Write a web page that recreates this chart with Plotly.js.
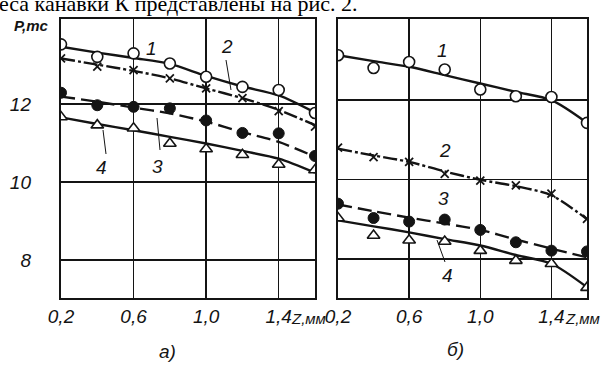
<!DOCTYPE html>
<html>
<head>
<meta charset="utf-8">
<script src="https://cdn.plot.ly/plotly-3.0.1.min.js"></script>
<style>html,body{margin:0;padding:0;background:#fff}#chart{width:605px;height:365px}</style>
</head>
<body>
<div id="chart"></div>
<script>
// Z, mm (measurement points)
const zPoints = [0.2, 0.4, 0.6, 0.8, 1.0, 1.2, 1.4, 1.6];
const zTicks = [0.2, 0.6, 1.0, 1.4];
const zTickText = ['0,2', '0,6', '1,0', '1,4'];
const pTicks = [8, 10, 12];
const pTickText = ['8', '10', '12'];

// panel a) measured points, P, tc
const a1 = [13.53, 13.21, 13.30, 13.04, 12.70, 12.44, 12.36, 11.77];
const a2 = [13.17, 12.96, 12.87, 12.66, 12.40, 12.15, 11.82, 11.42];
const a3 = [12.29, 11.97, 11.93, 11.89, 11.58, 11.26, 11.25, 10.67];
const a4 = [11.67, 11.46, 11.38, 10.99, 10.85, 10.70, 10.45, 10.31];
// panel a) fitted curves
const a1fit = [13.47, 13.32, 13.18, 13.03, 12.72, 12.45, 12.22, 11.78];
const a2fit = [13.17, 13.01, 12.85, 12.66, 12.40, 12.15, 11.85, 11.46];
const a3fit = [12.19, 12.06, 11.91, 11.76, 11.55, 11.28, 11.03, 10.65];
const a4fit = [11.66, 11.49, 11.33, 11.16, 10.99, 10.80, 10.60, 10.24];

// panel б) measured points
const b1 = [13.12, 12.80, 12.95, 12.76, 12.26, 12.09, 12.07, 11.42];
const b2 = [10.80, 10.56, 10.44, 10.14, 9.97, 9.85, 9.64, 9.01];
const b3 = [9.39, 9.03, 8.94, 8.99, 8.73, 8.42, 8.21, 8.19];
const b4 = [9.03, 8.59, 8.47, 8.44, 8.21, 7.96, 7.88, 7.28];
// panel б) fitted curves
const b1fit = [13.12, 12.97, 12.83, 12.62, 12.41, 12.20, 11.99, 11.42];
const b2fit = [10.77, 10.60, 10.44, 10.20, 9.99, 9.83, 9.60, 9.00];
const b3fit = [9.37, 9.20, 9.04, 8.89, 8.73, 8.49, 8.26, 8.04];
const b4fit = [8.97, 8.82, 8.67, 8.50, 8.34, 8.10, 7.88, 7.29];

const INK = '#141414';
const curveDash = ['solid', '14px,3px,3px,3px', '14px,6px', 'solid'];
const markerStyles = [
  {symbol: 'circle', size: 11, color: '#fff', line: {color: INK, width: 1.6}},
  {symbol: 'x-thin-open', size: 8, color: INK, line: {color: INK, width: 1.8}},
  {symbol: 'circle', size: 11, color: INK, line: {color: INK, width: 1}},
  {symbol: 'triangle-up', size: 11, color: '#fff', line: {color: INK, width: 1.6}}
];

function panel(fits, pts, xa, ya) {
  const out = [];
  fits.forEach((f, i) => out.push({
    x: zPoints, y: f, xaxis: xa, yaxis: ya, type: 'scatter', mode: 'lines',
    line: {color: INK, width: 2.4, shape: 'spline', smoothing: 0.8, dash: curveDash[i]},
    hoverinfo: 'skip', showlegend: false
  }));
  pts.forEach((p, i) => out.push({
    x: zPoints, y: p, xaxis: xa, yaxis: ya, type: 'scatter', mode: 'markers',
    marker: markerStyles[i], showlegend: false
  }));
  return out;
}

const data = [].concat(
  panel([a1fit, a2fit, a3fit, a4fit], [a1, a2, a3, a4], 'x', 'y'),
  panel([b1fit, b2fit, b3fit, b4fit], [b1, b2, b3, b4], 'x2', 'y2')
);

const FONT = 'Liberation Sans, Arial, sans-serif';
const tickFont = {family: FONT, size: 19, color: INK, style: 'italic'};
const xBase = {
  range: [0.2, 1.6], tickvals: zTicks, ticktext: zTickText, ticks: '',
  showgrid: true, gridcolor: INK, gridwidth: 1.5, zeroline: false,
  showline: true, mirror: true, linecolor: INK, linewidth: 2.2,
  tickfont: tickFont, ticklabelstandoff: 0
};
const yBase = {
  tickvals: pTicks, ticktext: pTickText, ticks: '',
  showgrid: true, gridcolor: INK, gridwidth: 1.5, zeroline: false,
  showline: true, mirror: true, linecolor: INK, linewidth: 2.2,
  tickfont: tickFont
};

const lab = (x, y, t, extra) => Object.assign({
  x: x, y: y, xref: 'paper', yref: 'paper', text: t, showarrow: false,
  xanchor: 'center', yanchor: 'middle',
  font: {family: FONT, size: 19, color: INK, style: 'italic'}
}, extra || {});
const px = v => v / 605;
const py = v => 1 - v / 365;
const unitFont = {family: FONT, size: 15, color: INK, style: 'italic'};

const annotations = [
  lab(px(-3), py(18), 'еса канавки К представлены на рис. 2.',
    {xanchor: 'left', yanchor: 'bottom', font: {family: 'Liberation Serif, serif', size: 22, color: '#000'}}),
  lab(px(31), py(25), '<b>P,тс</b>', {font: {family: FONT, size: 15, color: INK, style: 'italic'}}),
  lab(px(289), py(318), 'Z,мм', {xanchor: 'left', font: unitFont}),
  lab(px(563), py(318), 'Z,мм', {xanchor: 'left', font: unitFont}),
  lab(px(167), py(351), 'а)'),
  lab(px(455), py(349), 'б)'),
  // curve numbers, panel a)
  lab(px(151), py(48), '1'),
  lab(px(227), py(46), '2'),
  lab(px(157), py(166), '3'),
  lab(px(102), py(167), '4'),
  // curve numbers, panel б)
  lab(px(442), py(50), '1'),
  lab(px(445), py(150), '2'),
  lab(px(443), py(198), '3'),
  lab(px(447), py(275), '4')
];

const shapes = [
  {type: 'line', xref: 'paper', yref: 'paper', x0: px(226), y0: py(60), x1: px(231), y1: py(90), line: {color: INK, width: 1}},
  {type: 'line', xref: 'paper', yref: 'paper', x0: px(157), y0: py(118), x1: px(160), y1: py(150), line: {color: INK, width: 1}},
  {type: 'line', xref: 'paper', yref: 'paper', x0: px(103), y0: py(130), x1: px(106), y1: py(154), line: {color: INK, width: 1}},
  {type: 'line', xref: 'paper', yref: 'paper', x0: px(437), y0: py(240), x1: px(445), y1: py(262), line: {color: INK, width: 1}}
];

const layout = {
  width: 605, height: 365,
  margin: {l: 0, r: 0, t: 0, b: 0},
  paper_bgcolor: '#fff', plot_bgcolor: '#fff',
  showlegend: false,
  xaxis: Object.assign({}, xBase, {domain: [px(61), px(315)], anchor: 'y'}),
  yaxis: Object.assign({}, yBase, {domain: [py(298), py(19)], range: [7.03, 14.18], anchor: 'x', ticklabelstandoff: 24}),
  xaxis2: Object.assign({}, xBase, {domain: [px(338), px(587)], anchor: 'y2'}),
  yaxis2: Object.assign({}, yBase, {domain: [py(298), py(19)], range: [7.02, 14.03], anchor: 'x2', showticklabels: false}),
  annotations: annotations,
  shapes: shapes
};

Plotly.newPlot('chart', data, layout, {staticPlot: true, displayModeBar: false});
</script>
</body>
</html>
